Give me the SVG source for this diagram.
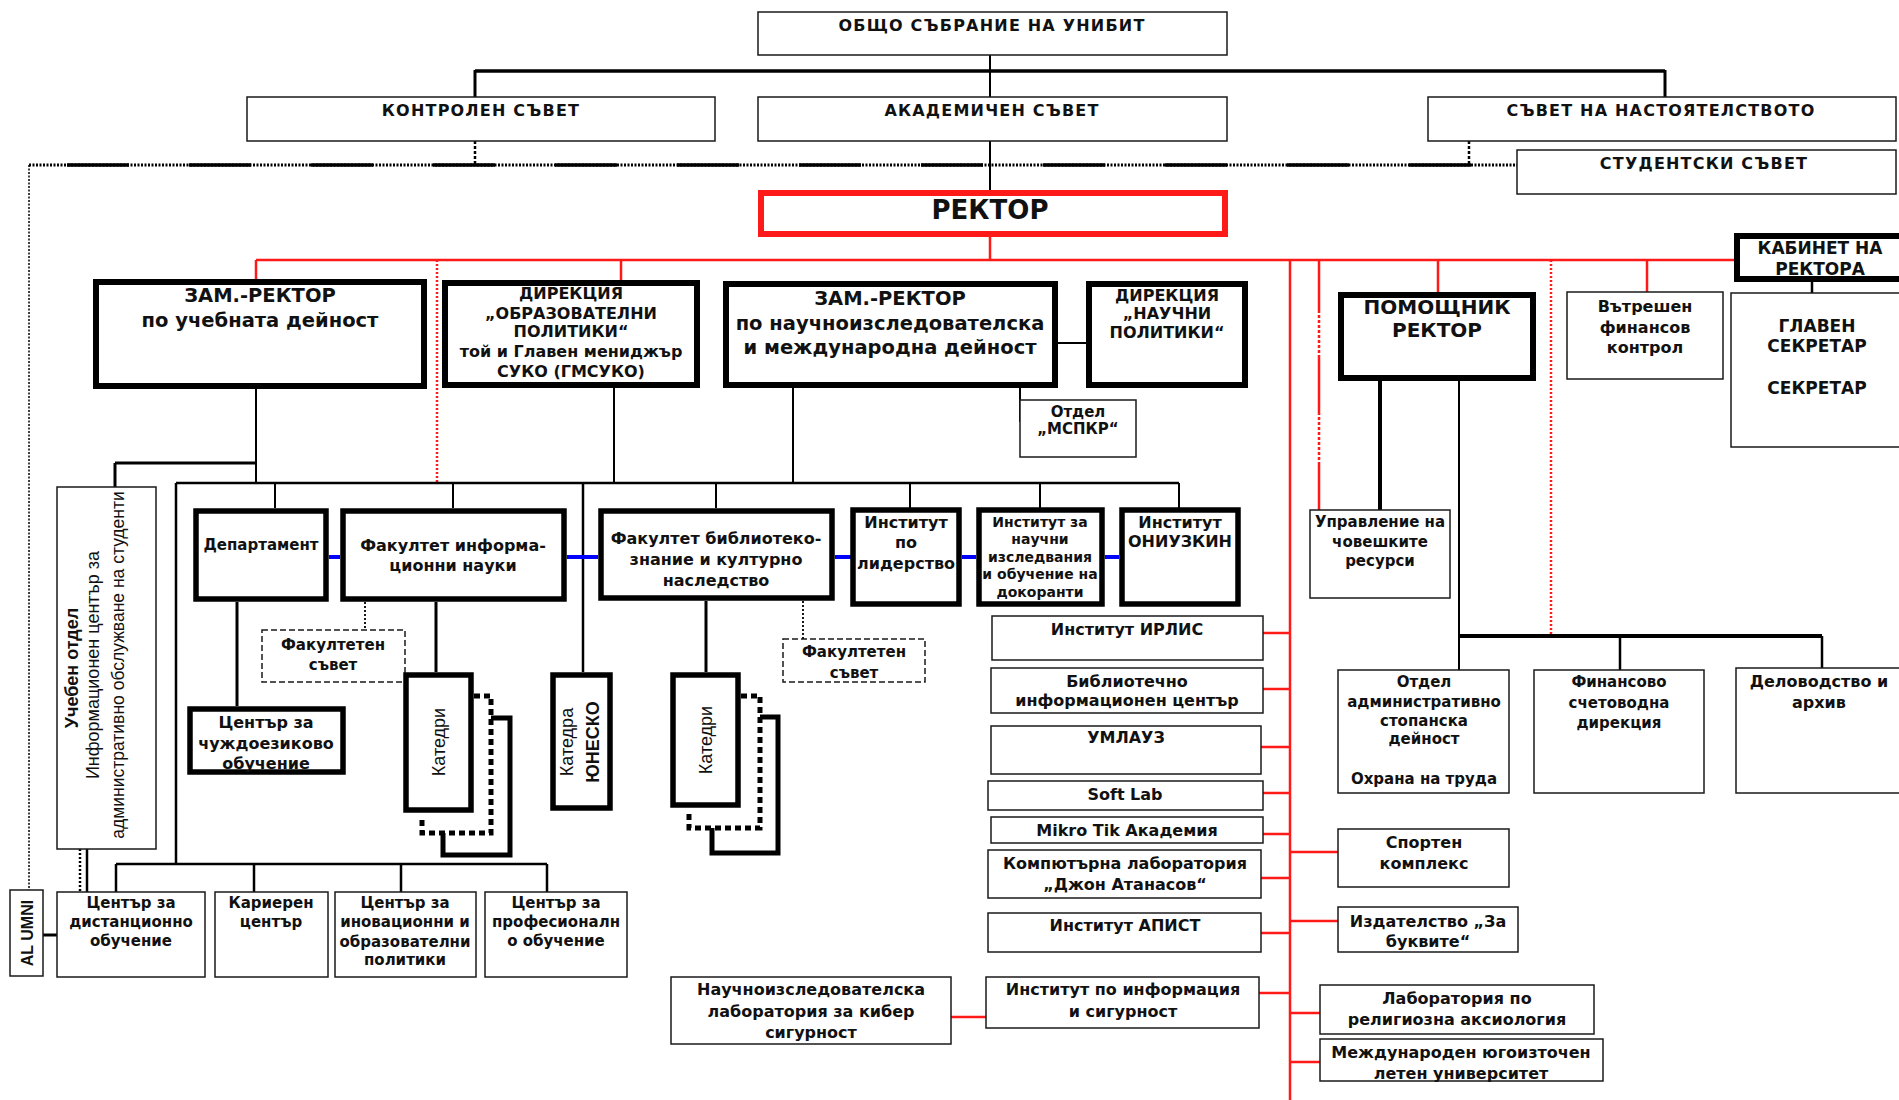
<svg xmlns="http://www.w3.org/2000/svg" width="1899" height="1100" viewBox="0 0 1899 1100">
<style>
.bx{fill:#fff;stroke:#1a1a1a;stroke-width:1.5}
.tk{fill:#fff;stroke:#000;stroke-width:6}
.tm{fill:#fff;stroke:#000;stroke-width:5.5}
.ds{fill:#fff;stroke:#1a1a1a;stroke-width:1.5;stroke-dasharray:6 3}
text{font-family:"DejaVu Sans",Verdana,sans-serif;font-weight:bold;text-anchor:middle;fill:#111}
.h{font-size:16px;letter-spacing:1.2px}
.b19{font-size:19.5px}
.f16{font-size:16px}
.f15{font-size:15px}
.f14{font-size:14px}
.ar{font-family:"Liberation Sans",Arial,sans-serif}
.k{stroke:#000;fill:none}
.r{stroke:#ff1a1a;fill:none;stroke-width:2.5}
.bl{stroke:#0000ff;stroke-width:4;fill:none}
</style>
<rect width="1899" height="1100" fill="#fff"/>
<g id="connectors">
  <path class="k" stroke-width="2" d="M990,55V97"/>
  <path class="k" stroke-width="3.5" d="M475,71H1665"/>
  <path class="k" stroke-width="3" d="M475,70V97M1665,70V97"/>
  <path class="k" stroke-width="2" d="M990,141V191"/>
  <path class="k" stroke-width="2.5" stroke-dasharray="3 2" d="M475,141V165M1469,141V165"/>
  <path class="k" stroke-width="3" stroke-dasharray="2 1.5" d="M29,165H1517"/>
  <path class="k" stroke-width="3.5" stroke-dasharray="62 60" d="M67,165H1517"/>
  <path class="k" stroke-width="1.5" stroke-dasharray="2 1.5" stroke="#444" d="M29,165V890"/>
  <path class="r" d="M990,237V260"/>
  <path class="r" d="M256,260H1735"/>
  <path class="r" d="M256,260V281M621,260V281M1438,260V292M1647,260V292M1290,260V1100"/>
  <path class="r" d="M1319,260V310M1319,355V412M1319,465V510"/>
  <path class="r" stroke-dasharray="3 2" d="M1319,310V355M1319,412V465"/>
  <path class="r" stroke-width="2" stroke-dasharray="2 2" d="M437,260V483M1551,260V636"/>
  <path class="r" d="M1263,633H1290M1263,689H1290M1261,747H1290M1263,793H1290M1263,834H1290M1261,878H1290M1261,933H1290M1259,993H1290"/>
  <path class="r" d="M1290,852H1338M1290,921H1338M1290,1013H1320M1290,1062H1320M951,1017H986"/>
  <path class="k" stroke-width="2" d="M256,389V483M614,388V483M793,388V483"/>
  <path class="k" stroke-width="3" d="M115,463H256M115,463V487"/>
  <path class="k" stroke-width="2.5" d="M176,483H1179M176,483V864"/>
  <path class="k" stroke-width="2" d="M275,483V508M453,483V508M716,483V508M910,483V508M1040,483V508M1179,483V508"/>
  <path class="k" stroke-width="2.5" d="M583,483V672"/>
  <path class="k" stroke-width="2" d="M1057,343H1087M1020,388V422"/>
  <path class="bl" d="M329,557H340M567,557H598M835,557H851M962,557H976M1105,557H1119"/>
  <path class="k" stroke-width="3" d="M237,602V706M436,602V672M706,601V672"/>
  <path class="k" stroke-width="1.8" stroke-dasharray="2 2" d="M365,602V630M803,601V639"/>
  <path class="k" stroke-width="5" stroke-dasharray="6 4" d="M474,696H491V833H422V818"/>
  <path class="k" stroke-width="5" d="M491,718H510V855H443V833"/>
  <path class="k" stroke-width="5" stroke-dasharray="6 4" d="M741,696H760V828H689V813"/>
  <path class="k" stroke-width="5" d="M760,717H778V853H712V828"/>
  <path class="k" stroke-width="2.5" d="M116,864H547M116,864V892M254,864V892M401,864V892M547,864V892"/>
  <path class="k" stroke-width="2.5" stroke-dasharray="2 2" d="M80,849V892"/>
  <path class="k" stroke-width="2.5" d="M87,849V892"/>
  <path class="k" stroke-width="3" d="M43,935H57"/>
  <path class="k" stroke-width="4" d="M1380,380V510"/>
  <path class="k" stroke-width="2" d="M1459,380V670"/>
  <path class="k" stroke-width="4" d="M1459,636H1822"/>
  <path class="k" stroke-width="2.5" d="M1620,636V670M1822,636V668"/>
  <path class="k" stroke-width="2.5" d="M1812,282V293"/>
</g>
<g id="obshto"><rect class="bx" x="758" y="12" width="469" height="43"/><text class="h" x="992" y="31">ОБЩО СЪБРАНИЕ НА УНИБИТ</text></g>
<g id="kontrolen"><rect class="bx" x="247" y="97" width="468" height="44"/><text class="h" x="481" y="116">КОНТРОЛЕН СЪВЕТ</text></g>
<g id="akademichen"><rect class="bx" x="758" y="97" width="469" height="44"/><text class="h" x="992" y="116">АКАДЕМИЧЕН СЪВЕТ</text></g>
<g id="nastoyatelstvo"><rect class="bx" x="1428" y="97" width="468" height="44"/><text class="h" x="1661" y="116">СЪВЕТ НА НАСТОЯТЕЛСТВОТО</text></g>
<g id="studentski"><rect class="bx" x="1517" y="150" width="379" height="44"/><text class="h" x="1704" y="169">СТУДЕНТСКИ СЪВЕТ</text></g>
<g id="rektor"><rect x="761" y="193" width="464" height="41" fill="#fff" stroke="#ff1a1a" stroke-width="6"/><text x="990" y="219" font-size="26">РЕКТОР</text></g>
<g id="zam-ucheb"><rect class="tk" x="96" y="282" width="328" height="104"/><text class="b19" x="260" y="302">ЗАМ.-РЕКТОР</text><text class="b19" x="260" y="327">по учебната дейност</text></g>
<g id="dir-obr"><rect class="tk" x="445" y="283" width="252" height="102"/><text class="f16"><tspan x="571" y="299">ДИРЕКЦИЯ</tspan><tspan x="571" y="319">„ОБРАЗОВАТЕЛНИ</tspan><tspan x="571" y="337">ПОЛИТИКИ“</tspan><tspan x="571" y="357">той и Главен мениджър</tspan><tspan x="571" y="377">СУКО (ГМСУКО)</tspan></text></g>
<g id="zam-nauch"><rect class="tk" x="726" y="284" width="329" height="101"/><text class="b19"><tspan x="890" y="305">ЗАМ.-РЕКТОР</tspan><tspan x="890" y="330">по научноизследователска</tspan><tspan x="890" y="354">и международна дейност</tspan></text></g>
<g id="dir-nauch"><rect class="tk" x="1089" y="284" width="156" height="101"/><text class="f16"><tspan x="1167" y="301">ДИРЕКЦИЯ</tspan><tspan x="1167" y="319">„НАУЧНИ</tspan><tspan x="1167" y="338">ПОЛИТИКИ“</tspan></text></g>
<g id="mspkr"><rect class="bx" x="1020" y="400" width="116" height="57"/><text class="f15"><tspan x="1078" y="417">Отдел</tspan><tspan x="1078" y="434">„МСПКР“</tspan></text></g>
<g id="pomoshtnik"><rect class="tk" x="1341" y="295" width="192" height="83"/><text font-size="20"><tspan x="1437" y="314">ПОМОЩНИК</tspan><tspan x="1437" y="337">РЕКТОР</tspan></text></g>
<g id="vatreshen"><rect class="bx" x="1567" y="292" width="156" height="87"/><text class="f16"><tspan x="1645" y="312">Вътрешен</tspan><tspan x="1645" y="333">финансов</tspan><tspan x="1645" y="353">контрол</tspan></text></g>
<g id="kabinet"><rect class="tk" x="1737" y="236" width="175" height="43"/><text font-size="17"><tspan x="1820" y="254">КАБИНЕТ НА</tspan><tspan x="1820" y="275">РЕКТОРА</tspan></text></g>
<g id="glaven"><rect class="bx" x="1731" y="293" width="180" height="154"/><text font-size="17"><tspan x="1817" y="332">ГЛАВЕН</tspan><tspan x="1817" y="352">СЕКРЕТАР</tspan><tspan x="1817" y="394">СЕКРЕТАР</tspan></text></g>
<g id="upravlenie"><rect class="bx" x="1310" y="510" width="140" height="88"/><text class="f15"><tspan x="1380" y="527">Управление на</tspan><tspan x="1380" y="547">човешките</tspan><tspan x="1380" y="566">ресурси</tspan></text></g>
<g id="departament"><rect class="tm" x="196" y="511" width="130" height="88"/><text class="f15" x="261" y="550">Департамент</text></g>
<g id="fak-inf"><rect class="tm" x="343" y="511" width="221" height="88"/><text class="f16"><tspan x="453" y="551">Факултет информа-</tspan><tspan x="453" y="571">ционни науки</tspan></text></g>
<g id="fak-bibl"><rect class="tm" x="601" y="511" width="231" height="87"/><text class="f16"><tspan x="716" y="544">Факултет библиотеко-</tspan><tspan x="716" y="565">знание и културно</tspan><tspan x="716" y="586">наследство</tspan></text></g>
<g id="inst-lid"><rect class="tm" x="853" y="510" width="106" height="94"/><text class="f16"><tspan x="906" y="528">Институт</tspan><tspan x="906" y="548">по</tspan><tspan x="906" y="569">лидерство</tspan></text></g>
<g id="inst-nauch"><rect class="tm" x="979" y="510" width="123" height="94"/><text class="f14"><tspan x="1040" y="527">Институт за</tspan><tspan x="1040" y="544">научни</tspan><tspan x="1040" y="562">изследвания</tspan><tspan x="1040" y="579">и обучение на</tspan><tspan x="1040" y="597">докоранти</tspan></text></g>
<g id="oniuzkin"><rect class="tm" x="1122" y="510" width="116" height="94"/><text class="f16"><tspan x="1180" y="528">Институт</tspan><tspan x="1180" y="547">ОНИУЗКИН</tspan></text></g>
<g id="ucheben"><rect class="bx" x="57" y="487" width="99" height="362"/>
  <text class="ar" font-size="18" transform="translate(78,668) rotate(-90)" x="0" y="0">Учебен отдел</text>
  <text class="ar" font-size="18" transform="translate(99,665) rotate(-90)" x="0" y="0" style="font-weight:normal">Информационен център за</text>
  <text class="ar" font-size="17.5" transform="translate(124,665) rotate(-90)" x="0" y="0" style="font-weight:normal">административно обслужване на студенти</text>
</g>
<g id="chuzhd"><rect class="tm" x="190" y="709" width="153" height="63"/><text class="f16"><tspan x="266" y="728">Център за</tspan><tspan x="266" y="749">чуждоезиково</tspan><tspan x="266" y="769">обучение</tspan></text></g>
<g id="fak-savet-1"><rect class="ds" x="262" y="630" width="143" height="52"/><text class="f15"><tspan x="333" y="650">Факултетен</tspan><tspan x="333" y="670">съвет</tspan></text></g>
<g id="katedri-1"><rect class="tm" x="406" y="675" width="65" height="135"/><text class="ar" font-size="18" transform="translate(445,742) rotate(-90)" style="font-weight:normal">Катедри</text></g>
<g id="unesco"><rect class="tm" x="553" y="675" width="57" height="133"/><text class="ar" font-size="18" transform="translate(573,742) rotate(-90)" style="font-weight:normal">Катедра</text><text class="ar" font-size="18" transform="translate(599,742) rotate(-90)">ЮНЕСКО</text></g>
<g id="katedri-2"><rect class="tm" x="673" y="675" width="65" height="130"/><text class="ar" font-size="18" transform="translate(712,740) rotate(-90)" style="font-weight:normal">Катедри</text></g>
<g id="fak-savet-2"><rect class="ds" x="783" y="639" width="142" height="43"/><text class="f15"><tspan x="854" y="657">Факултетен</tspan><tspan x="854" y="678">съвет</tspan></text></g>
<g id="irlis"><rect class="bx" x="992" y="616" width="271" height="44"/><text class="f16" x="1127" y="635">Институт ИРЛИС</text></g>
<g id="bibl"><rect class="bx" x="991" y="668" width="272" height="45"/><text class="f16"><tspan x="1127" y="687">Библиотечно</tspan><tspan x="1127" y="706">информационен център</tspan></text></g>
<g id="umlauz"><rect class="bx" x="991" y="726" width="270" height="48"/><text class="f16" x="1126" y="743">УМЛАУЗ</text></g>
<g id="softlab"><rect class="bx" x="988" y="781" width="275" height="29"/><text class="f16" x="1125" y="800">Soft Lab</text></g>
<g id="mikrotik"><rect class="bx" x="991" y="817" width="272" height="26"/><text class="f16" x="1127" y="836">Mikro Tik Академия</text></g>
<g id="komp"><rect class="bx" x="988" y="850" width="273" height="48"/><text class="f16"><tspan x="1125" y="869">Компютърна лаборатория</tspan><tspan x="1125" y="890">„Джон Атанасов“</tspan></text></g>
<g id="apist"><rect class="bx" x="988" y="913" width="273" height="39"/><text class="f16" x="1125" y="931">Институт АПИСТ</text></g>
<g id="inf-sig"><rect class="bx" x="986" y="977" width="273" height="51"/><text class="f16"><tspan x="1123" y="995">Институт по информация</tspan><tspan x="1123" y="1017">и сигурност</tspan></text></g>
<g id="kiber"><rect class="bx" x="671" y="977" width="280" height="67"/><text class="f16"><tspan x="811" y="995">Научноизследователска</tspan><tspan x="811" y="1017">лаборатория за кибер</tspan><tspan x="811" y="1038">сигурност</tspan></text></g>
<g id="otdel-adm"><rect class="bx" x="1338" y="670" width="171" height="123"/><text class="f15"><tspan x="1424" y="687">Отдел</tspan><tspan x="1424" y="707">административно</tspan><tspan x="1424" y="726">стопанска</tspan><tspan x="1424" y="744">дейност</tspan><tspan x="1424" y="784">Охрана на труда</tspan></text></g>
<g id="finansovo"><rect class="bx" x="1534" y="670" width="170" height="123"/><text class="f15"><tspan x="1619" y="687">Финансово</tspan><tspan x="1619" y="708">счетоводна</tspan><tspan x="1619" y="728">дирекция</tspan></text></g>
<g id="delovodstvo"><rect class="bx" x="1736" y="668" width="180" height="125"/><text class="f16"><tspan x="1819" y="687">Деловодство и</tspan><tspan x="1819" y="708">архив</tspan></text></g>
<g id="sporten"><rect class="bx" x="1338" y="829" width="171" height="58"/><text class="f16"><tspan x="1424" y="848">Спортен</tspan><tspan x="1424" y="869">комплекс</tspan></text></g>
<g id="izdatelstvo"><rect class="bx" x="1338" y="907" width="180" height="45"/><text class="f16"><tspan x="1428" y="927">Издателство „За</tspan><tspan x="1428" y="947">буквите“</tspan></text></g>
<g id="religiozna"><rect class="bx" x="1320" y="985" width="274" height="49"/><text class="f16"><tspan x="1457" y="1004">Лаборатория по</tspan><tspan x="1457" y="1025">религиозна аксиология</tspan></text></g>
<g id="mezhdunaroden"><rect class="bx" x="1320" y="1039" width="283" height="42"/><text class="f16"><tspan x="1461" y="1058">Международен югоизточен</tspan><tspan x="1461" y="1079">летен университет</tspan></text></g>
<g id="alumni"><rect class="bx" x="10" y="890" width="33" height="86"/><text class="ar" font-size="16" transform="translate(33,933) rotate(-90)">AL UMNI</text></g>
<g id="center-dist"><rect class="bx" x="57" y="892" width="148" height="85"/><text class="f15"><tspan x="131" y="908">Център за</tspan><tspan x="131" y="927">дистанционно</tspan><tspan x="131" y="946">обучение</tspan></text></g>
<g id="karieren"><rect class="bx" x="215" y="892" width="113" height="85"/><text class="f15"><tspan x="271" y="908">Кариерен</tspan><tspan x="271" y="927">център</tspan></text></g>
<g id="inovac"><rect class="bx" x="335" y="892" width="141" height="85"/><text class="f15"><tspan x="405" y="908">Център за</tspan><tspan x="405" y="927">иновационни и</tspan><tspan x="405" y="947">образователни</tspan><tspan x="405" y="965">политики</tspan></text></g>
<g id="profes"><rect class="bx" x="485" y="892" width="142" height="85"/><text class="f15"><tspan x="556" y="908">Център за</tspan><tspan x="556" y="927">професионалн</tspan><tspan x="556" y="946">о обучение</tspan></text></g>
</svg>
